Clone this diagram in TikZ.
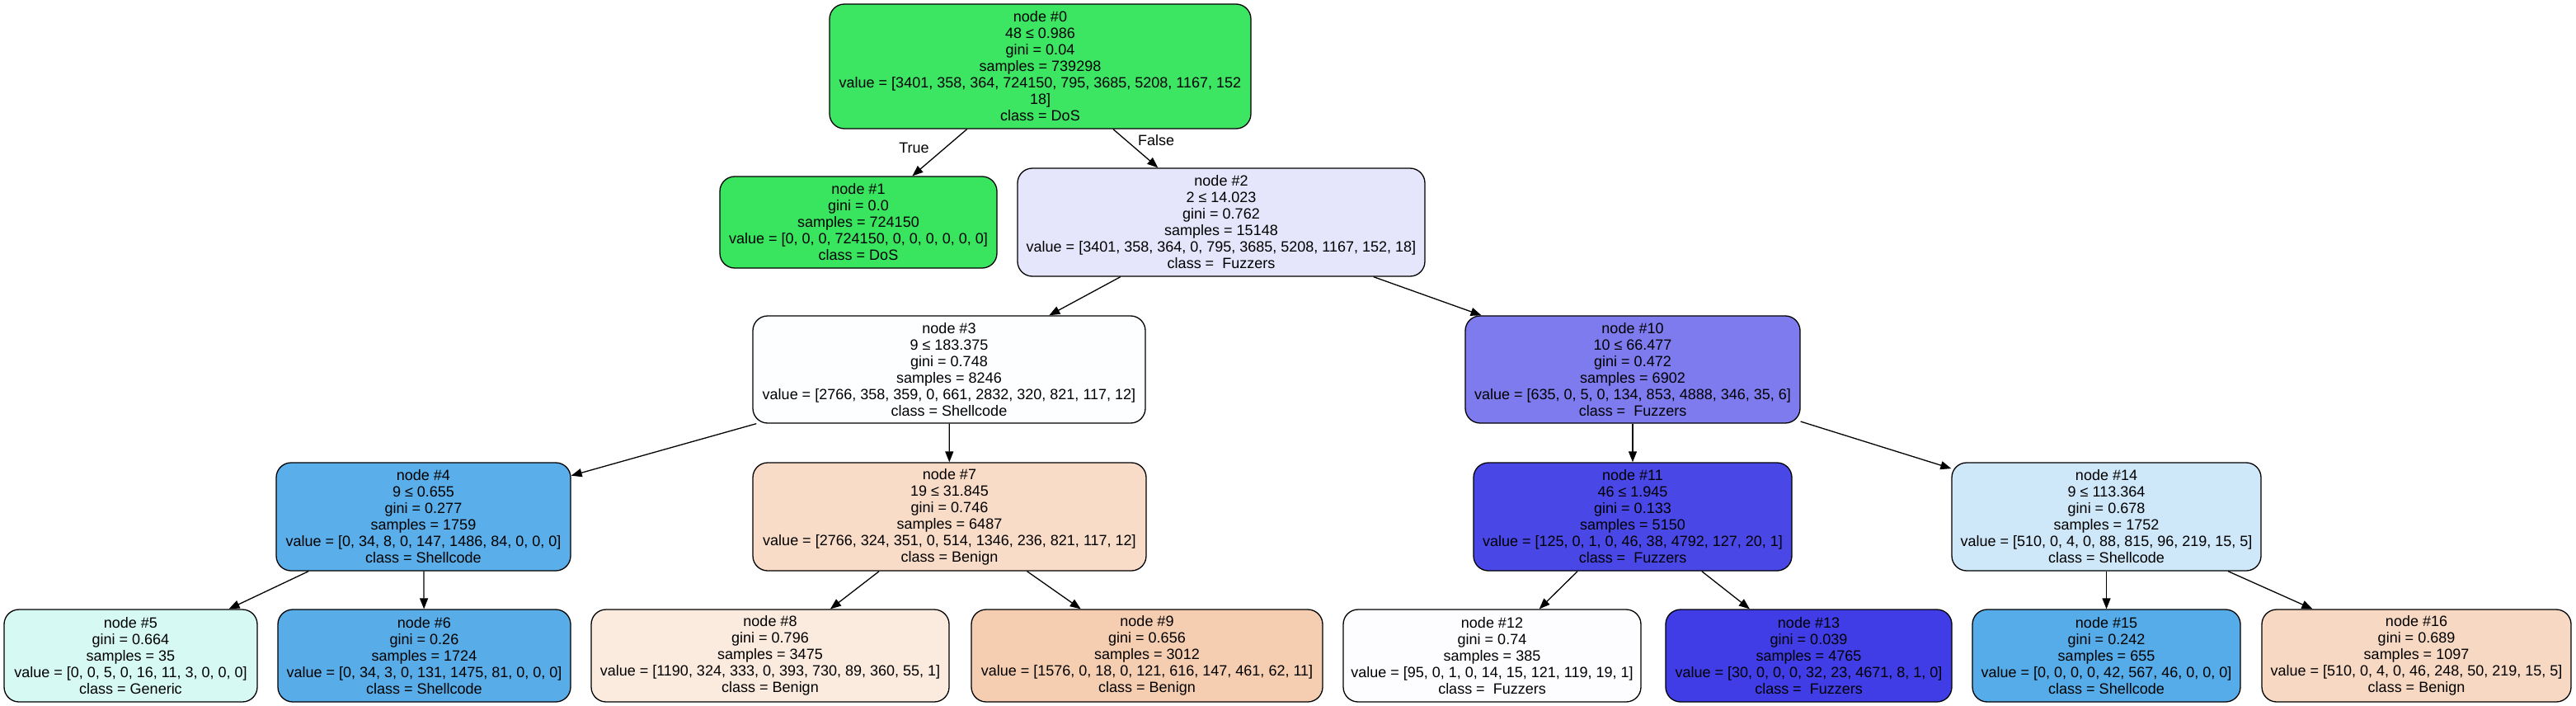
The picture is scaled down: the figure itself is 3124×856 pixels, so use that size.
\documentclass[tikz,border=0pt]{standalone}
\usepackage{fontspec}
\setmainfont{Liberation Sans}
\usetikzlibrary{arrows.meta}
\definecolor{c0}{RGB}{61,230,98}
\definecolor{c1}{RGB}{57,229,95}
\definecolor{c2}{RGB}{229,229,251}
\definecolor{c3}{RGB}{253,254,255}
\definecolor{c4}{RGB}{90,174,233}
\definecolor{c5}{RGB}{214,250,243}
\definecolor{c6}{RGB}{88,173,233}
\definecolor{c7}{RGB}{248,220,200}
\definecolor{c8}{RGB}{251,234,222}
\definecolor{c9}{RGB}{245,205,176}
\definecolor{c10}{RGB}{125,123,238}
\definecolor{c11}{RGB}{74,71,231}
\definecolor{c12}{RGB}{253,253,255}
\definecolor{c13}{RGB}{64,61,230}
\definecolor{c14}{RGB}{206,231,249}
\definecolor{c15}{RGB}{86,172,233}
\definecolor{c16}{RGB}{247,216,194}
\tikzset{
  tnode/.style={draw=black, line width=1.3pt, rounded corners=18pt, align=center,
    font=\fontsize{18}{20}\selectfont, inner sep=0pt},
  conn/.style={-{Triangle[length=13pt,width=10pt]}, line width=1.3pt, draw=black},
  elabel/.style={font=\fontsize{18}{20}\selectfont, inner sep=0pt},
}
\begin{document}
\begin{tikzpicture}[x=1pt,y=-1pt]
\useasboundingbox[fill=white] (0,0) rectangle (3124,856);
% level 0
\node[tnode, fill=c0, minimum width=511pt, minimum height=151pt] (n0) at (1261.5,80.5)
  {node \#0\\48 ≤ 0.986\\gini = 0.04\\samples = 739298\\value = [3401, 358, 364, 724150, 795, 3685, 5208, 1167, 152\\18]\\class = DoS};
% level 1
\node[tnode, fill=c1, minimum width=336pt, minimum height=111pt] (n1) at (1041,269.5)
  {node \#1\\gini = 0.0\\samples = 724150\\value = [0, 0, 0, 724150, 0, 0, 0, 0, 0, 0]\\class = DoS};
\node[tnode, fill=c2, minimum width=494pt, minimum height=131pt] (n2) at (1481,269.5)
  {node \#2\\2 ≤ 14.023\\gini = 0.762\\samples = 15148\\value = [3401, 358, 364, 0, 795, 3685, 5208, 1167, 152, 18]\\class =\ \ Fuzzers};
% level 2
\node[tnode, fill=c3, minimum width=476pt, minimum height=130pt] (n3) at (1151,448)
  {node \#3\\9 ≤ 183.375\\gini = 0.748\\samples = 8246\\value = [2766, 358, 359, 0, 661, 2832, 320, 821, 117, 12]\\class = Shellcode};
\node[tnode, fill=c10, minimum width=406pt, minimum height=130pt] (n10) at (1980,448)
  {node \#10\\10 ≤ 66.477\\gini = 0.472\\samples = 6902\\value = [635, 0, 5, 0, 134, 853, 4888, 346, 35, 6]\\class =\ \ Fuzzers};
% level 3
\node[tnode, fill=c4, minimum width=357pt, minimum height=131pt] (n4) at (513.5,626.5)
  {node \#4\\9 ≤ 0.655\\gini = 0.277\\samples = 1759\\value = [0, 34, 8, 0, 147, 1486, 84, 0, 0, 0]\\class = Shellcode};
\node[tnode, fill=c7, minimum width=477pt, minimum height=131pt] (n7) at (1151.5,626.5)
  {node \#7\\19 ≤ 31.845\\gini = 0.746\\samples = 6487\\value = [2766, 324, 351, 0, 514, 1346, 236, 821, 117, 12]\\class = Benign};
\node[tnode, fill=c11, minimum width=386pt, minimum height=131pt] (n11) at (1980,626.5)
  {node \#11\\46 ≤ 1.945\\gini = 0.133\\samples = 5150\\value = [125, 0, 1, 0, 46, 38, 4792, 127, 20, 1]\\class =\ \ Fuzzers};
\node[tnode, fill=c14, minimum width=375pt, minimum height=131pt] (n14) at (2554.5,626.5)
  {node \#14\\9 ≤ 113.364\\gini = 0.678\\samples = 1752\\value = [510, 0, 4, 0, 88, 815, 96, 219, 15, 5]\\class = Shellcode};
% level 4
\node[tnode, fill=c5, minimum width=307pt, minimum height=112pt] (n5) at (158.5,795)
  {node \#5\\gini = 0.664\\samples = 35\\value = [0, 0, 5, 0, 16, 11, 3, 0, 0, 0]\\class = Generic};
\node[tnode, fill=c6, minimum width=355pt, minimum height=112pt] (n6) at (514.5,795)
  {node \#6\\gini = 0.26\\samples = 1724\\value = [0, 34, 3, 0, 131, 1475, 81, 0, 0, 0]\\class = Shellcode};
\node[tnode, fill=c8, minimum width=434pt, minimum height=112pt] (n8) at (934,795)
  {node \#8\\gini = 0.796\\samples = 3475\\value = [1190, 324, 333, 0, 393, 730, 89, 360, 55, 1]\\class = Benign};
\node[tnode, fill=c9, minimum width=426pt, minimum height=112pt] (n9) at (1391,795)
  {node \#9\\gini = 0.656\\samples = 3012\\value = [1576, 0, 18, 0, 121, 616, 147, 461, 62, 11]\\class = Benign};
\node[tnode, fill=c12, minimum width=361pt, minimum height=112pt] (n12) at (1809.5,795)
  {node \#12\\gini = 0.74\\samples = 385\\value = [95, 0, 1, 0, 14, 15, 121, 119, 19, 1]\\class =\ \ Fuzzers};
\node[tnode, fill=c13, minimum width=347pt, minimum height=112pt] (n13) at (2193.5,795)
  {node \#13\\gini = 0.039\\samples = 4765\\value = [30, 0, 0, 0, 32, 23, 4671, 8, 1, 0]\\class =\ \ Fuzzers};
\node[tnode, fill=c15, minimum width=325pt, minimum height=112pt] (n15) at (2554.5,795)
  {node \#15\\gini = 0.242\\samples = 655\\value = [0, 0, 0, 0, 42, 567, 46, 0, 0, 0]\\class = Shellcode};
\node[tnode, fill=c16, minimum width=375pt, minimum height=112pt] (n16) at (2930.5,795)
  {node \#16\\gini = 0.689\\samples = 1097\\value = [510, 0, 4, 0, 46, 248, 50, 219, 15, 5]\\class = Benign};
% edges
\draw[conn] (n0) -- (n1);
\draw[conn] (n0) -- (n2);
\draw[conn] (n2) -- (n3);
\draw[conn] (n2) -- (n10);
\draw[conn] (n3) -- (n4);
\draw[conn] (n3) -- (n7);
\draw[conn] (n10) -- (n11);
\draw[conn] (n10) -- (n14);
\draw[conn] (n4) -- (n5);
\draw[conn] (n4) -- (n6);
\draw[conn] (n7) -- (n8);
\draw[conn] (n7) -- (n9);
\draw[conn] (n11) -- (n12);
\draw[conn] (n11) -- (n13);
\draw[conn] (n14) -- (n15);
\draw[conn] (n14) -- (n16);
% edge labels
\node[elabel] (ltrue) at (1108.5,179) {True};
\node[elabel] (lfalse) at (1402,170) {False};
\end{tikzpicture}
\end{document}
